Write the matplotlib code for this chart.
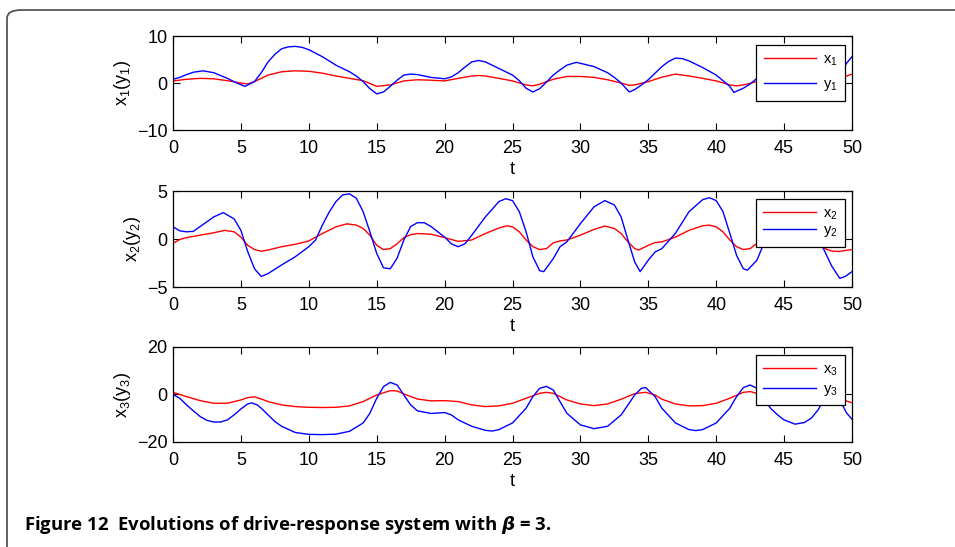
import matplotlib
matplotlib.use("Agg")
import matplotlib.pyplot as plt
from matplotlib.patches import FancyBboxPatch

plt.rcParams['font.family'] = ['Liberation Sans', 'DejaVu Sans']
plt.rcParams['mathtext.default'] = 'regular'
plt.rcParams['mathtext.fontset'] = 'dejavusans'

# ---- data ----
t_x1 = [0, 1, 2, 3, 4, 5, 5.5, 6, 7, 8, 9, 10, 11, 12, 13, 14, 15, 16, 17, 18, 19, 20,
        21, 22, 22.5, 23, 24, 25, 26, 26.5, 27, 28, 29, 30, 31, 32, 33, 33.6, 34, 35, 36,
        37, 38, 39, 40, 41, 41.5, 42, 43, 44, 45, 46, 47, 48, 48.6, 49.2, 49.6, 50]
x1 = [0.45, 0.8, 1.0, 0.9, 0.5, 0.0, -0.2, 0.3, 1.7, 2.4, 2.6, 2.5, 2.1, 1.5, 1.0, 0.5,
      -0.7, -0.4, 0.45, 0.7, 0.6, 0.45, 1.0, 1.5, 1.6, 1.5, 1.0, 0.45, -0.4, -0.6, -0.25,
      0.8, 1.4, 1.4, 1.2, 0.7, 0.0, -0.5, -0.4, 0.3, 1.25, 1.9, 1.5, 1.0, 0.45, -0.4, -0.6,
      -0.4, 0.3, 1.0, 1.5, 1.6, 1.2, 0.5, 0.3, 0.9, 1.5, 1.9]
t_y1 = [0, 0.5, 1, 1.5, 2.2, 3, 4, 4.7, 5.3, 6, 6.5, 7, 7.5, 8, 8.5, 9, 9.5, 10, 11, 12,
        13, 13.5, 14, 14.5, 15, 15.5, 16, 16.5, 17, 17.5, 18, 19, 20, 20.5, 21, 21.5, 22,
        22.5, 23, 24, 25, 25.5, 26, 26.5, 27, 27.5, 28, 28.5, 29, 29.7, 30, 31, 32, 32.5,
        33, 33.6, 34, 34.5, 35, 35.5, 36, 36.5, 37, 37.5, 38, 39, 40, 40.5, 41, 41.3, 42,
        42.5, 43, 44, 45, 46, 47, 47.7, 48.3, 49, 49.6, 50]
y1 = [0.8, 1.2, 1.8, 2.3, 2.6, 2.2, 1.0, 0.0, -0.7, 0.3, 2.2, 4.5, 6.1, 7.3, 7.7, 7.8,
      7.6, 7.1, 5.6, 3.8, 2.4, 1.5, 0.3, -1.2, -2.3, -1.9, -0.7, 0.6, 1.7, 1.9, 1.8, 1.2,
      0.9, 1.3, 2.2, 3.4, 4.5, 4.8, 4.5, 3.1, 1.7, 0.5, -1.1, -1.9, -1.2, 0.2, 1.7, 2.8,
      3.8, 4.4, 4.2, 3.5, 2.2, 1.2, 0.0, -1.9, -1.4, -0.4, 0.7, 2.1, 3.5, 4.6, 5.3, 5.2,
      4.7, 3.3, 1.7, 0.5, -0.7, -2.0, -1.1, -0.2, 1.0, 3.0, 4.3, 4.8, 3.8, 1.5, -1.0, 1.5,
      4.2, 5.6]

t_x2 = [0, 0.5, 1, 2, 3, 3.8, 4.5, 5, 5.5, 6, 6.5, 7, 8, 9, 10, 11, 12, 12.8, 13.5, 14,
        14.5, 15, 15.5, 16, 16.5, 17, 17.5, 18, 19, 20, 21, 22, 23, 24, 24.6, 25, 25.5, 26,
        26.5, 27, 27.5, 28, 28.5, 29, 30, 31, 31.8, 32.5, 33, 33.5, 34, 34.3, 35, 35.5, 36,
        37, 38, 39, 39.5, 40, 40.5, 41, 41.5, 42, 42.5, 43, 43.5, 44, 45, 46, 46.5, 47,
        47.5, 48, 48.5, 49, 49.5, 50]
x2 = [-0.45, -0.05, 0.15, 0.4, 0.65, 0.9, 0.75, 0.2, -0.65, -1.1, -1.27, -1.15, -0.8,
      -0.55, -0.2, 0.57, 1.27, 1.58, 1.45, 1.1, 0.4, -0.65, -1.1, -1.0, -0.5, 0.15, 0.45,
      0.57, 0.5, 0.15, -0.25, -0.1, 0.57, 1.15, 1.38, 1.27, 0.75, -0.1, -0.8, -1.1, -1.0,
      -0.4, -0.2, -0.1, 0.4, 1.0, 1.35, 1.1, 0.57, -0.3, -1.0, -1.15, -0.65, -0.37, -0.3,
      0.2, 0.9, 1.38, 1.45, 1.27, 0.75, -0.1, -0.8, -1.1, -1.0, -0.45, -0.05, 0.3, 0.9,
      1.3, 1.2, 0.6, -0.3, -1.0, -1.25, -1.3, -1.2, -1.1]
t_y2 = [0, 0.5, 1, 1.5, 2, 3, 3.7, 4.5, 5, 5.5, 6, 6.5, 7, 8, 9, 10, 10.5, 11, 11.5, 12,
        12.5, 13, 13.5, 14, 14.5, 15, 15.5, 16, 16.5, 17, 17.5, 18, 18.5, 19, 20, 20.5, 21,
        21.5, 22, 23, 24, 24.5, 25, 25.5, 26, 26.5, 27, 27.3, 28, 28.5, 29, 30, 31, 31.8,
        32.5, 33, 33.5, 34, 34.4, 35, 35.5, 36, 37, 38, 39, 39.5, 40, 40.5, 41, 41.5, 42,
        42.3, 43, 43.5, 44, 44.5, 45, 45.5, 46, 46.5, 47, 47.5, 48, 48.5, 49.1, 49.5, 50]
y2 = [1.27, 0.85, 0.75, 0.8, 1.3, 2.3, 2.75, 2.1, 0.9, -1.3, -3.1, -3.9, -3.6, -2.7, -1.85,
      -0.8, -0.1, 1.45, 2.8, 3.9, 4.6, 4.7, 4.25, 2.85, 0.75, -1.5, -3.0, -3.1, -2.0, -0.1,
      1.3, 1.7, 1.7, 1.3, 0.2, -0.5, -0.8, -0.5, 0.4, 2.3, 3.9, 4.2, 4.0, 2.85, 0.75,
      -1.85, -3.3, -3.4, -2.05, -0.8, -0.3, 1.6, 3.35, 4.0, 3.55, 2.3, -0.1, -2.4, -3.4,
      -2.2, -1.35, -1.0, 0.6, 2.85, 4.1, 4.3, 4.0, 2.85, 0.6, -1.7, -3.1, -3.25, -2.2, -0.5,
      1.2, 2.8, 3.8, 4.1, 3.9, 3.0, 1.5, 0.0, -1.3, -2.8, -4.1, -3.9, -3.4]

t_x3 = [0, 0.5, 1, 2, 3, 4, 5, 5.5, 6, 6.5, 7, 8, 9, 10, 11, 12, 13, 14, 15, 16, 16.5, 17,
        18, 19, 20, 21, 22, 23, 24, 25, 26, 27, 27.5, 28, 29, 30, 31, 32, 33, 34, 34.8,
        35.5, 36, 37, 38, 39, 40, 41, 42, 42.5, 43, 44, 45, 46, 47, 47.5, 48, 48.4, 48.8,
        49.3, 50]
x3 = [0.9, 0.0, -0.9, -2.6, -3.7, -3.7, -2.3, -1.3, -1.0, -1.9, -3.0, -4.4, -5.1, -5.4,
      -5.5, -5.4, -4.8, -3.0, -0.2, 1.6, 1.5, 0.2, -1.9, -2.7, -2.6, -3.0, -4.4, -5.1, -4.8,
      -3.7, -1.6, 0.5, 0.9, 0.5, -2.3, -4.0, -4.7, -4.0, -2.0, 0.35, 0.9, -0.2, -2.0, -4.0,
      -4.8, -4.7, -3.7, -1.6, 0.9, 1.2, 0.5, -0.9, -2.5, -3.5, -3.3, -2.0, -0.3, 0.8, 0.0,
      -2.2, -3.5]
t_y3 = [0, 0.5, 1, 1.5, 2, 2.5, 3, 3.5, 4, 4.5, 5, 5.5, 5.8, 6.2, 6.5, 7, 7.5, 8, 9, 10,
        11, 12, 13, 14, 14.5, 15, 15.5, 16, 16.5, 17, 17.5, 18, 19, 20, 20.5, 21, 22, 23,
        23.5, 24, 25, 26, 26.5, 27, 27.5, 28, 28.5, 29, 30, 31, 32, 33, 34, 34.5, 34.8, 35.5,
        36, 37, 38, 38.5, 39, 40, 41, 41.5, 42, 42.5, 43, 43.5, 44, 44.5, 45, 45.8, 46.5, 47,
        47.5, 48, 48.3, 48.6, 49, 49.3, 49.6, 50]
y3 = [0.0, -1.6, -4.4, -6.9, -9.3, -10.9, -11.6, -11.6, -10.7, -8.6, -6.1, -4.0, -3.55,
      -4.4, -5.8, -8.6, -11.4, -13.4, -16.0, -16.8, -16.9, -16.7, -15.5, -12.0, -7.9, -1.6,
      3.3, 5.1, 4.0, -0.2, -4.4, -6.9, -8.0, -7.6, -8.6, -10.7, -13.4, -15.1, -15.4, -14.8,
      -12.0, -5.8, -0.9, 2.6, 3.4, 1.9, -3.0, -7.9, -12.8, -14.4, -13.4, -8.6, -0.2, 2.6,
      2.9, -0.9, -5.8, -12.0, -14.8, -15.2, -14.8, -12.0, -5.8, -0.9, 2.9, 4.0, 2.6, -1.6,
      -5.8, -8.5, -10.7, -12.5, -11.8, -10.0, -6.5, -1.5, 1.5, 3.0, 1.0, -4.5, -7.8, -10.4]

panels = [
    (t_x1, x1, t_y1, y1, (-10, 10), [-10, 0, 10], '1', 0.904, 0.65),
    (t_x2, x2, t_y2, y2, (-5, 5), [-5, 0, 5], '2', 0.917, 0.12),
    (t_x3, x3, t_y3, y3, (-20, 20), [-20, 0, 20], '3', 0.916, 0.3),
]
xticks = list(range(0, 51, 5))

fig = plt.figure(figsize=(9.55, 5.47), dpi=100)

# rounded frame round the figure panel (open to the right and bottom)
frame = FancyBboxPatch((7 / 955, -0.2), 1.2, 1.2 - 10 / 547,
                       boxstyle="round,pad=0,rounding_size=0.015",
                       transform=fig.transFigure, fill=False,
                       edgecolor='#555555', linewidth=1.3, clip_on=False)
fig.patches.append(frame)

boxes = [(0.7623, 0.1718), (0.4753, 0.1755), (0.192, 0.1737)]
for (tx, xv, ty, yv, ylim, yt, k, ltop, lspace), (y0, h) in zip(panels, boxes):
    ax = fig.add_axes([173 / 955, y0, 679 / 955, h])
    ax.plot(tx, xv, color='red', lw=1.0, label='x$_%s$' % k)
    ax.plot(ty, yv, color='blue', lw=1.0, label='y$_%s$' % k)
    ax.set_xlim(0, 50)
    ax.set_ylim(*ylim)
    ax.set_xticks(xticks)
    ax.set_yticks(yt)
    ax.set_yticklabels([str(v).replace('-', '\u2212') for v in yt])
    ax.tick_params(direction='in', length=5, width=0.8, top=True, right=True,
                   labelsize=13)
    ax.tick_params(axis='x', pad=7)
    ax.tick_params(axis='y', pad=4)
    for s in ax.spines.values():
        s.set_linewidth(0.9)
    ax.set_xlabel('t', fontsize=13, labelpad=3)
    ax.set_ylabel('x$_%s$(y$_%s$)' % (k, k), fontsize=13, labelpad=3)
    leg = ax.legend(loc='upper right', bbox_to_anchor=(0.99, ltop), borderaxespad=0,
                    fancybox=False, framealpha=1, edgecolor='black', fontsize=10.5,
                    handlelength=3.6, handletextpad=0.5, labelspacing=lspace,
                    borderpad=0.5)
    leg.get_frame().set_linewidth(0.9)

fig.text(24 / 955, 1 - 525 / 547,
         r'Figure 12  Evolutions of drive-response system with $\mathbfit{\beta}$ = 3.',
         family=['Open Sans', 'DejaVu Sans'], fontweight='bold', fontsize=13.3,
         va='center', ha='left')

fig.savefig('out.png', dpi=100)
